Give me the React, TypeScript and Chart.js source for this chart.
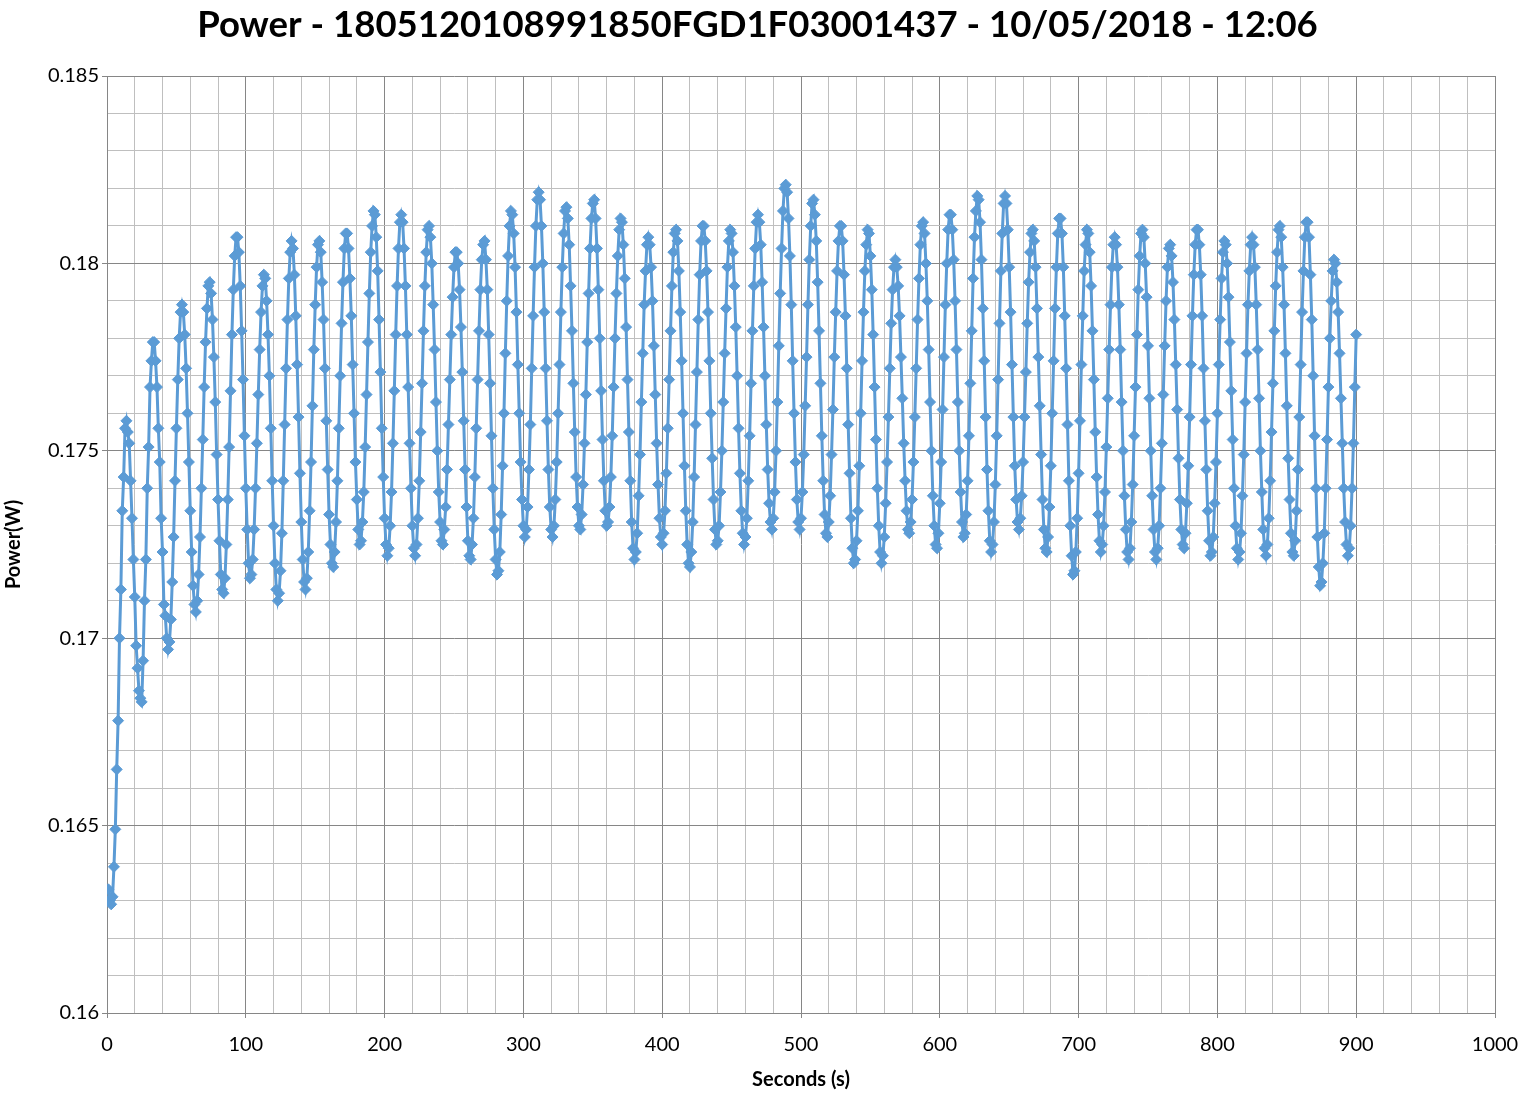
import React, { useEffect, useRef } from "react";
import { Chart, registerables } from "chart.js";

Chart.register(...registerables);

// ---------- texts ----------
const CHART_TITLE = "Power - 1805120108991850FGD1F03001437 - 10/05/2018 - 12:06";
const X_AXIS_TITLE = "Seconds (s)";
const Y_AXIS_TITLE = "Power(W)";

// ---------- axes ----------
const X_MIN = 0;
const X_MAX = 1000;
const X_MINOR_STEP = 20;
const X_MAJOR_STEP = 100;
const Y_MIN = 0.16;
const Y_MAX = 0.185;
const Y_MINOR_STEP = 0.001;
const Y_MAJOR_EVERY = 5; // major line every 5 minor steps (0.005)

// ---------- sampling (one reading per second, first at 1 s) ----------
const FIRST_SECOND = 1;
const SECONDS_PER_SAMPLE = 1;

// ---------- power readings (W) ----------
const powerSeg1 = [
  0.1633, 0.1630, 0.1629, 0.1631, 0.1639, 0.1649, 0.1665, 0.1678, 0.1700, 0.1713, 0.1734, 0.1743, 0.1756, 0.1758,
  0.1755, 0.1752, 0.1742, 0.1732, 0.1721, 0.1711, 0.1698, 0.1692, 0.1686, 0.1684, 0.1683, 0.1694, 0.1710, 0.1721,
  0.1740, 0.1751, 0.1767, 0.1774, 0.1779, 0.1779, 0.1774, 0.1767, 0.1756, 0.1747, 0.1732, 0.1723, 0.1709, 0.1706,
  0.1700, 0.1697,
  0.1699, 0.1705, 0.1715, 0.1727, 0.1742, 0.1756, 0.1769, 0.1780, 0.1787,
  0.1789, 0.1787, 0.1781, 0.1772, 0.1760, 0.1747, 0.1734, 0.1723, 0.1714, 0.1709, 0.1707, 0.1710, 0.1717, 0.1727, 0.1740, 0.1753, 0.1767, 0.1779, 0.1788, 0.1794,
  0.1795, 0.1792, 0.1785, 0.1775, 0.1763, 0.1749, 0.1737, 0.1726, 0.1717, 0.1713, 0.1712, 0.1716, 0.1725, 0.1737, 0.1751, 0.1766, 0.1781, 0.1793, 0.1802, 0.1807,
  0.1807, 0.1803, 0.1794, 0.1782, 0.1769, 0.1754, 0.1740, 0.1729, 0.1720, 0.1716, 0.1717, 0.1721, 0.1729, 0.1740, 0.1752, 0.1765, 0.1777, 0.1787, 0.1794, 0.1797,
];
const powerSeg2 = [
  0.1796, 0.1790, 0.1781, 0.1770, 0.1756, 0.1742, 0.1730, 0.1720, 0.1713, 0.1710, 0.1712, 0.1718, 0.1728, 0.1742, 0.1757, 0.1772, 0.1785, 0.1796, 0.1803, 0.1806,
  0.1804, 0.1797, 0.1786, 0.1773, 0.1759, 0.1744, 0.1731, 0.1721, 0.1715, 0.1713, 0.1716, 0.1723, 0.1734, 0.1747, 0.1762, 0.1777, 0.1789, 0.1799, 0.1805,
  0.1806, 0.1803, 0.1795, 0.1785, 0.1772, 0.1758, 0.1745, 0.1733, 0.1725, 0.1720, 0.1719, 0.1723, 0.1731, 0.1742, 0.1756, 0.1770, 0.1784, 0.1795, 0.1804, 0.1808,
  0.1808, 0.1804, 0.1796, 0.1786, 0.1773, 0.1760, 0.1747, 0.1737, 0.1729, 0.1725, 0.1726, 0.1731, 0.1739, 0.1751, 0.1765, 0.1779, 0.1792, 0.1803, 0.1810, 0.1814,
  0.1813, 0.1807, 0.1798, 0.1785, 0.1771, 0.1756, 0.1743, 0.1732, 0.1725, 0.1722, 0.1724, 0.1730, 0.1739, 0.1752, 0.1766, 0.1781, 0.1794, 0.1804, 0.1811, 0.1813,
];
const powerSeg3 = [
  0.1811, 0.1804, 0.1794, 0.1781, 0.1767, 0.1752, 0.1740, 0.1730, 0.1724, 0.1722, 0.1725, 0.1732, 0.1742, 0.1755, 0.1768, 0.1782, 0.1794, 0.1803, 0.1809,
  0.1810, 0.1807, 0.1800, 0.1789, 0.1777, 0.1763, 0.1750, 0.1739, 0.1731, 0.1726, 0.1725, 0.1729, 0.1735, 0.1745, 0.1757, 0.1769, 0.1781, 0.1791, 0.1799, 0.1803,
  0.1803, 0.1800, 0.1793, 0.1783, 0.1771, 0.1758, 0.1745, 0.1735, 0.1726, 0.1722, 0.1721, 0.1725, 0.1732, 0.1743, 0.1756, 0.1769, 0.1782, 0.1793, 0.1801, 0.1805,
  0.1806, 0.1801, 0.1793, 0.1781, 0.1768, 0.1754, 0.1740, 0.1729, 0.1721, 0.1717, 0.1718, 0.1723, 0.1733, 0.1746, 0.1760, 0.1776, 0.1790, 0.1802, 0.1810, 0.1814,
  0.1813, 0.1808, 0.1799, 0.1787, 0.1773, 0.1760, 0.1747, 0.1737, 0.1730, 0.1727, 0.1729, 0.1735, 0.1745, 0.1757, 0.1772, 0.1786, 0.1799, 0.1810, 0.1817,
];
const powerSeg4 = [
  0.1819, 0.1817, 0.1810, 0.1800, 0.1787, 0.1772, 0.1758, 0.1745, 0.1735, 0.1729, 0.1727, 0.1730, 0.1737, 0.1747, 0.1760, 0.1773, 0.1787, 0.1799, 0.1808, 0.1814,
  0.1815, 0.1812, 0.1805, 0.1794, 0.1782, 0.1768, 0.1755, 0.1743, 0.1735, 0.1730, 0.1729, 0.1733, 0.1741, 0.1752, 0.1765, 0.1779, 0.1792, 0.1804, 0.1812, 0.1816,
  0.1817, 0.1812, 0.1804, 0.1793, 0.1780, 0.1766, 0.1753, 0.1742, 0.1734, 0.1730, 0.1731, 0.1735, 0.1743, 0.1754, 0.1767, 0.1780, 0.1792, 0.1802, 0.1809, 0.1812,
  0.1811, 0.1805, 0.1796, 0.1783, 0.1769, 0.1755, 0.1742, 0.1731, 0.1724, 0.1721, 0.1723, 0.1728, 0.1738, 0.1749, 0.1763, 0.1776, 0.1789, 0.1798, 0.1805, 0.1807,
  0.1805, 0.1799, 0.1790, 0.1778, 0.1765, 0.1752, 0.1741, 0.1732, 0.1727, 0.1725, 0.1728, 0.1734, 0.1744, 0.1756, 0.1769, 0.1782, 0.1794, 0.1803, 0.1808,
];
const powerSeg5 = [
  0.1809, 0.1806, 0.1798, 0.1787, 0.1774, 0.1760, 0.1746, 0.1734, 0.1725, 0.1720, 0.1719, 0.1723, 0.1731, 0.1743, 0.1757, 0.1771, 0.1785, 0.1797, 0.1806, 0.1810,
  0.1810, 0.1806, 0.1798, 0.1787, 0.1774, 0.1760, 0.1748, 0.1737, 0.1729, 0.1725, 0.1726, 0.1730, 0.1739, 0.1750, 0.1763, 0.1776, 0.1788, 0.1799, 0.1806, 0.1809,
  0.1808, 0.1803, 0.1794, 0.1783, 0.1770, 0.1756, 0.1744, 0.1734, 0.1728, 0.1725, 0.1727, 0.1732, 0.1742, 0.1754, 0.1768, 0.1782, 0.1794, 0.1804, 0.1811, 0.1813,
  0.1811, 0.1805, 0.1795, 0.1783, 0.1770, 0.1757, 0.1745, 0.1736, 0.1731, 0.1729, 0.1732, 0.1739, 0.1750, 0.1763, 0.1778, 0.1792, 0.1804, 0.1814, 0.1820,
  0.1821, 0.1819, 0.1812, 0.1802, 0.1789, 0.1774, 0.1760, 0.1747, 0.1737, 0.1731, 0.1729, 0.1732, 0.1739, 0.1749, 0.1762, 0.1775, 0.1789, 0.1801, 0.1810, 0.1816,
];
const powerSeg6 = [
  0.1817, 0.1813, 0.1806, 0.1795, 0.1782, 0.1768, 0.1754, 0.1742, 0.1733, 0.1728, 0.1727, 0.1731, 0.1738, 0.1749, 0.1761, 0.1775, 0.1787, 0.1798, 0.1806, 0.1810,
  0.1810, 0.1806, 0.1797, 0.1786, 0.1772, 0.1757, 0.1744, 0.1732, 0.1724, 0.1720, 0.1721, 0.1726, 0.1734, 0.1746, 0.1760, 0.1774, 0.1787, 0.1798, 0.1805, 0.1809,
  0.1808, 0.1802, 0.1793, 0.1781, 0.1767, 0.1753, 0.1740, 0.1730, 0.1723, 0.1720, 0.1722, 0.1727, 0.1736, 0.1747, 0.1759, 0.1772, 0.1784, 0.1793, 0.1799,
  0.1801, 0.1799, 0.1794, 0.1786, 0.1775, 0.1764, 0.1752, 0.1742, 0.1734, 0.1729, 0.1728, 0.1731, 0.1737, 0.1747, 0.1759, 0.1772, 0.1785, 0.1796, 0.1805, 0.1810,
  0.1811, 0.1808, 0.1800, 0.1790, 0.1777, 0.1763, 0.1750, 0.1738, 0.1730, 0.1725, 0.1724, 0.1728, 0.1736, 0.1747, 0.1761, 0.1775, 0.1789, 0.1800, 0.1809, 0.1813,
];
const powerSeg7 = [
  0.1813, 0.1809, 0.1801, 0.1790, 0.1777, 0.1763, 0.1750, 0.1739, 0.1731, 0.1727, 0.1728, 0.1733, 0.1742, 0.1754, 0.1768, 0.1782, 0.1796, 0.1807, 0.1814, 0.1818,
  0.1817, 0.1811, 0.1801, 0.1788, 0.1774, 0.1759, 0.1745, 0.1734, 0.1726, 0.1723, 0.1725, 0.1731, 0.1741, 0.1754, 0.1769, 0.1784, 0.1798, 0.1808, 0.1816, 0.1818,
  0.1816, 0.1809, 0.1799, 0.1787, 0.1773, 0.1759, 0.1746, 0.1737, 0.1731, 0.1729, 0.1732, 0.1738, 0.1747, 0.1759, 0.1771, 0.1784, 0.1795, 0.1803, 0.1808,
  0.1809, 0.1806, 0.1799, 0.1788, 0.1775, 0.1762, 0.1749, 0.1737, 0.1729, 0.1724, 0.1723, 0.1727, 0.1735, 0.1746, 0.1760, 0.1774, 0.1788, 0.1799, 0.1808, 0.1812,
  0.1812, 0.1808, 0.1799, 0.1786, 0.1772, 0.1757, 0.1742, 0.1730, 0.1722, 0.1717, 0.1718, 0.1723, 0.1732, 0.1744, 0.1758, 0.1773, 0.1786, 0.1798, 0.1805, 0.1809,
];
const powerSeg8 = [
  0.1808, 0.1803, 0.1794, 0.1782, 0.1769, 0.1755, 0.1743, 0.1733, 0.1726, 0.1723, 0.1725, 0.1730, 0.1739, 0.1751, 0.1764, 0.1777, 0.1789, 0.1799, 0.1805, 0.1807,
  0.1805, 0.1799, 0.1789, 0.1777, 0.1763, 0.1750, 0.1738, 0.1729, 0.1723, 0.1721, 0.1724, 0.1731, 0.1741, 0.1754, 0.1767, 0.1781, 0.1793, 0.1802, 0.1808,
  0.1809, 0.1807, 0.1800, 0.1791, 0.1778, 0.1764, 0.1750, 0.1738, 0.1729, 0.1723, 0.1721, 0.1724, 0.1730, 0.1740, 0.1752, 0.1765, 0.1778, 0.1790, 0.1799, 0.1804,
  0.1805, 0.1802, 0.1795, 0.1785, 0.1773, 0.1761, 0.1748, 0.1737, 0.1729, 0.1725, 0.1724, 0.1728, 0.1736, 0.1746, 0.1759, 0.1773, 0.1786, 0.1797, 0.1805, 0.1809,
  0.1809, 0.1805, 0.1797, 0.1786, 0.1772, 0.1758, 0.1745, 0.1734, 0.1726, 0.1722, 0.1723, 0.1727, 0.1736, 0.1747, 0.1760, 0.1773, 0.1785, 0.1796, 0.1803, 0.1806,
];
const powerSeg9 = [
  0.1805, 0.1800, 0.1791, 0.1779, 0.1766, 0.1753, 0.1740, 0.1730, 0.1724, 0.1721, 0.1723, 0.1728, 0.1738, 0.1749, 0.1763, 0.1776, 0.1789, 0.1798, 0.1805,
  0.1807, 0.1805, 0.1799, 0.1789, 0.1777, 0.1764, 0.1750, 0.1739, 0.1729, 0.1724, 0.1722, 0.1725, 0.1732, 0.1742, 0.1755, 0.1768, 0.1782, 0.1794, 0.1803, 0.1809,
  0.1810, 0.1807, 0.1799, 0.1789, 0.1776, 0.1762, 0.1748, 0.1737, 0.1728, 0.1723, 0.1722, 0.1726, 0.1734, 0.1745, 0.1759, 0.1773, 0.1787, 0.1798, 0.1807, 0.1811,
  0.1811, 0.1807, 0.1797, 0.1785, 0.1770, 0.1754, 0.1740, 0.1727, 0.1719, 0.1714, 0.1715, 0.1720, 0.1728, 0.1740, 0.1753, 0.1767, 0.1780, 0.1790, 0.1798, 0.1801,
  0.1800, 0.1795, 0.1787, 0.1776, 0.1764, 0.1752, 0.1740, 0.1731, 0.1725, 0.1722, 0.1724, 0.1730, 0.1740, 0.1752, 0.1767, 0.1781,
];

// ---------- styles ----------
const LINE_COLOR = "#5B9BD5";
const MAJOR_GRID = "#868686";
const MINOR_GRID = "#bfbfbf";
const TEXT_COLOR = "#000000";
const FONT_FAMILY = "Lato, 'Open Sans', sans-serif";

const W = 1522;
const H = 1095;
const PLOT_LEFT = 107;
const PLOT_RIGHT = 1495;
const PLOT_TOP = 76;
const PLOT_BOTTOM = 1013;
const LEFT_PAD = 20;

export default function App() {
  const canvasRef = useRef<HTMLCanvasElement | null>(null);

  useEffect(() => {
    document.body.style.margin = "0";
    document.body.style.background = "#ffffff";
    const canvas = canvasRef.current;
    if (!canvas) return;

    const readings = [
      ...powerSeg1, ...powerSeg2, ...powerSeg3, ...powerSeg4, ...powerSeg5,
      ...powerSeg6, ...powerSeg7, ...powerSeg8, ...powerSeg9,
    ];
    const points = readings.map((y, i) => ({ x: FIRST_SECOND + i * SECONDS_PER_SAMPLE, y }));

    const isMajorX = (v: number) => Math.round(v) % X_MAJOR_STEP === 0;
    const isMajorY = (v: number) => Math.round(v / Y_MINOR_STEP) % Y_MAJOR_EVERY === 0;

    Chart.defaults.font.family = FONT_FAMILY;
    Chart.defaults.color = TEXT_COLOR;

    const titleFontSize = 36.5;
    const titlePadTop = 3;

    const chart = new Chart(canvas, {
      type: "line",
      data: {
        datasets: [
          {
            data: points,
            borderColor: LINE_COLOR,
            backgroundColor: LINE_COLOR,
            borderWidth: 3,
            pointStyle: "rectRot",
            pointRadius: 5.5,
            pointBackgroundColor: LINE_COLOR,
            pointBorderColor: LINE_COLOR,
            pointBorderWidth: 1,
            tension: 0,
            fill: false,
          },
        ],
      },
      options: {
        responsive: false,
        animation: false,
        devicePixelRatio: 1,
        parsing: false,
        normalized: true,
        layout: { padding: { left: LEFT_PAD, right: W - PLOT_RIGHT, top: 0, bottom: 0 } },
        plugins: {
          legend: { display: false },
          tooltip: { enabled: false },
          title: {
            display: true,
            text: CHART_TITLE,
            color: TEXT_COLOR,
            font: { family: FONT_FAMILY, size: titleFontSize, weight: "bold", lineHeight: 1.2 },
            padding: { top: titlePadTop, bottom: PLOT_TOP - titlePadTop - titleFontSize * 1.2 },
          },
        },
        scales: {
          x: {
            type: "linear",
            min: X_MIN,
            max: X_MAX,
            afterFit: (scale: any) => {
              scale.height = H - PLOT_BOTTOM;
              scale.paddingLeft = 0;
              scale.paddingRight = 0;
            },
            ticks: {
              stepSize: X_MINOR_STEP,
              autoSkip: false,
              maxRotation: 0,
              minRotation: 0,
              padding: 15,
              color: TEXT_COLOR,
              font: { size: 20 },
              callback: (v: any) => (isMajorX(Number(v)) ? String(Math.round(Number(v))) : ""),
            },
            grid: {
              color: (ctx: any) => (ctx.tick && isMajorX(ctx.tick.value) ? MAJOR_GRID : MINOR_GRID),
              tickColor: (ctx: any) => (ctx.tick && isMajorX(ctx.tick.value) ? MAJOR_GRID : "rgba(0,0,0,0)"),
              tickLength: 5,
              lineWidth: 1,
            },
            border: { display: true, color: MAJOR_GRID, width: 1 },
            title: {
              display: true,
              text: X_AXIS_TITLE,
              color: TEXT_COLOR,
              font: { size: 20, weight: "bold" },
              padding: { top: 0, bottom: 3 },
            },
          },
          y: {
            type: "linear",
            min: Y_MIN,
            max: Y_MAX,
            afterFit: (scale: any) => {
              scale.width = PLOT_LEFT - LEFT_PAD;
              scale.paddingTop = 0;
              scale.paddingBottom = 0;
            },
            ticks: {
              stepSize: Y_MINOR_STEP,
              autoSkip: false,
              padding: 3,
              color: TEXT_COLOR,
              font: { size: 20 },
              callback: (v: any) => {
                const n = Number(v);
                return isMajorY(n) ? String(Number(n.toFixed(3))) : "";
              },
            },
            grid: {
              color: (ctx: any) => (ctx.tick && isMajorY(ctx.tick.value) ? MAJOR_GRID : MINOR_GRID),
              tickColor: (ctx: any) => (ctx.tick && isMajorY(ctx.tick.value) ? MAJOR_GRID : "rgba(0,0,0,0)"),
              tickLength: 5,
              lineWidth: 1,
            },
            border: { display: true, color: MAJOR_GRID, width: 1 },
            title: {
              display: true,
              text: Y_AXIS_TITLE,
              color: TEXT_COLOR,
              font: { size: 20, weight: "bold" },
              padding: { top: 14 - LEFT_PAD - 12, bottom: 0 },
            },
          },
        },
      } as any,
    });

    return () => {
      chart.destroy();
    };
  }, []);

  return (
    <div style={{ width: W, height: H, background: "#ffffff" }}>
      <canvas ref={canvasRef} width={W} height={H} style={{ display: "block", width: W, height: H }} />
    </div>
  );
}
